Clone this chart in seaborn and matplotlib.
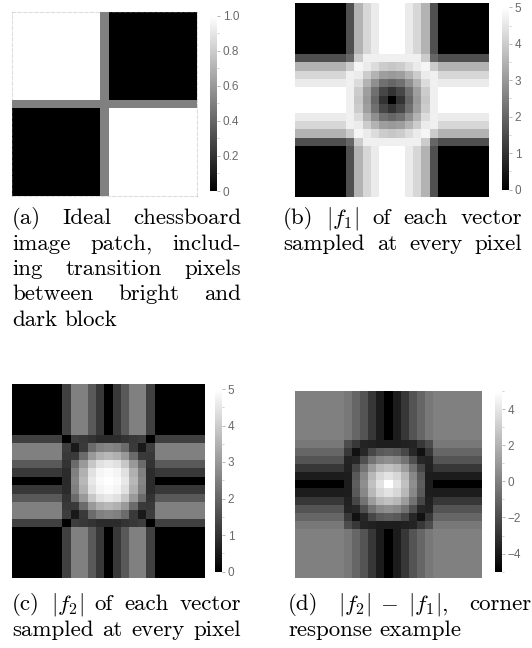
import numpy as np
import matplotlib
matplotlib.use("Agg")
import matplotlib.pyplot as plt
from matplotlib.ticker import MultipleLocator, FuncFormatter
import seaborn as sns

# ---- values: 23 x 23 pixel patch, centre pixel at index 11 ----

# (a) ideal chessboard: four blocks plus one row/column of transition pixels
board_blocks = [[1.0, 0.0],
                [0.0, 1.0]]
block_size = 11
transition_value = 0.5

# (b) |f1|: value across the bands (same profile along rows and columns) and the centre 11x11
f1_band = [0, 0, 0, 0, 0, 0, 1.55, 3.5, 4.2, 4.6, 5.0, 5.0, 5.0, 4.6, 4.2, 3.5, 1.55, 0, 0, 0, 0, 0, 0]
f1_centre = [
    [2.0, 4.0, 4.7, 4.7, 4.7, 4.7, 4.7, 4.7, 4.7, 4.0, 2.0],
    [4.0, 4.8, 4.6, 4.3, 4.0, 3.9, 4.0, 4.3, 4.6, 4.8, 4.0],
    [4.7, 4.6, 4.0, 3.5, 3.1, 3.0, 3.1, 3.5, 4.0, 4.6, 4.7],
    [4.7, 4.3, 3.5, 2.8, 2.2, 2.0, 2.2, 2.8, 3.5, 4.3, 4.7],
    [4.7, 4.0, 3.1, 2.2, 1.4, 1.0, 1.4, 2.2, 3.1, 4.0, 4.7],
    [4.7, 3.9, 3.0, 2.0, 1.0, 0.0, 1.0, 2.0, 3.0, 3.9, 4.7],
    [4.7, 4.0, 3.1, 2.2, 1.4, 1.0, 1.4, 2.2, 3.1, 4.0, 4.7],
    [4.7, 4.3, 3.5, 2.8, 2.2, 2.0, 2.2, 2.8, 3.5, 4.3, 4.7],
    [4.7, 4.6, 4.0, 3.5, 3.1, 3.0, 3.1, 3.5, 4.0, 4.6, 4.7],
    [4.0, 4.8, 4.6, 4.3, 4.0, 3.9, 4.0, 4.3, 4.6, 4.8, 4.0],
    [2.0, 4.0, 4.7, 4.7, 4.7, 4.7, 4.7, 4.7, 4.7, 4.0, 2.0],
]

# (c) |f2|
f2_band = [0, 0, 0, 0, 0, 0, 1.25, 2.5, 2.5, 1.75, 1.1, 0.0, 1.1, 1.75, 2.5, 2.5, 1.25, 0, 0, 0, 0, 0, 0]
f2_centre = [
    [0.0, 1.2, 1.1, 1.0, 0.85, 0.85, 0.85, 1.0, 1.1, 1.2, 0.0],
    [1.2, 0.5, 1.15, 2.1, 2.5, 2.6, 2.5, 2.1, 1.15, 0.5, 1.2],
    [1.1, 1.15, 2.1, 3.0, 3.45, 3.6, 3.45, 3.0, 2.1, 1.15, 1.1],
    [1.0, 2.1, 3.0, 3.9, 4.4, 4.55, 4.4, 3.9, 3.0, 2.1, 1.0],
    [0.85, 2.5, 3.45, 4.4, 4.8, 4.9, 4.8, 4.4, 3.45, 2.5, 0.85],
    [0.85, 2.6, 3.6, 4.55, 4.9, 5.0, 4.9, 4.55, 3.6, 2.6, 0.85],
    [0.85, 2.5, 3.45, 4.4, 4.8, 4.9, 4.8, 4.4, 3.45, 2.5, 0.85],
    [1.0, 2.1, 3.0, 3.9, 4.4, 4.55, 4.4, 3.9, 3.0, 2.1, 1.0],
    [1.1, 1.15, 2.1, 3.0, 3.45, 3.6, 3.45, 3.0, 2.1, 1.15, 1.1],
    [1.2, 0.5, 1.15, 2.1, 2.5, 2.6, 2.5, 2.1, 1.15, 0.5, 1.2],
    [0.0, 1.2, 1.1, 1.0, 0.85, 0.85, 0.85, 1.0, 1.1, 1.2, 0.0],
]

# (d) |f2| - |f1|, corner response
diff_band = [0, 0, 0, 0, 0, 0, -0.3, -1.0, -1.7, -2.85, -3.9, -5.0, -3.9, -2.85, -1.7, -1.0, -0.3, 0, 0, 0, 0, 0, 0]
diff_centre = [
    [-2.0, -2.8, -3.6, -3.7, -3.85, -3.85, -3.85, -3.7, -3.6, -2.8, -2.0],
    [-2.8, -4.3, -3.45, -2.2, -1.5, -1.3, -1.5, -2.2, -3.45, -4.3, -2.8],
    [-3.6, -3.45, -1.9, -0.5, 0.35, 0.6, 0.35, -0.5, -1.9, -3.45, -3.6],
    [-3.7, -2.2, -0.5, 1.1, 2.2, 2.55, 2.2, 1.1, -0.5, -2.2, -3.7],
    [-3.85, -1.5, 0.35, 2.2, 3.4, 3.9, 3.4, 2.2, 0.35, -1.5, -3.85],
    [-3.85, -1.3, 0.6, 2.55, 3.9, 5.0, 3.9, 2.55, 0.6, -1.3, -3.85],
    [-3.85, -1.5, 0.35, 2.2, 3.4, 3.9, 3.4, 2.2, 0.35, -1.5, -3.85],
    [-3.7, -2.2, -0.5, 1.1, 2.2, 2.55, 2.2, 1.1, -0.5, -2.2, -3.7],
    [-3.6, -3.45, -1.9, -0.5, 0.35, 0.6, 0.35, -0.5, -1.9, -3.45, -3.6],
    [-2.8, -4.3, -3.45, -2.2, -1.5, -1.3, -1.5, -2.2, -3.45, -4.3, -2.8],
    [-2.0, -2.8, -3.6, -3.7, -3.85, -3.85, -3.85, -3.7, -3.6, -2.8, -2.0],
]

cbar_ticks_a = [0, 0.2, 0.4, 0.6, 0.8, 1.0]
cbar_ticks_f = [0, 1, 2, 3, 4, 5]
cbar_ticks_d = [-4, -2, 0, 2, 4]

captions = {
    "a": ["(a) Ideal chessboard", "image patch, includ-", "ing transition pixels",
          "between bright and", "dark block"],
    "b": ["(b) $|f_1|$ of each vector", "sampled at every pixel"],
    "c": ["(c) $|f_2|$ of each vector", "sampled at every pixel"],
    "d": [r"(d) $|f_2|\;-\;|f_1|$, corner", "response example"],
}


def chessboard(blocks, size, mid):
    patch = np.kron(np.asarray(blocks, float), np.ones((size, size)))
    patch = np.insert(patch, size, mid, axis=0)
    return np.insert(patch, size, mid, axis=1)


def banded(band, centre):
    band = np.asarray(band, float)
    centre = np.asarray(centre, float)
    n, m = len(band), len(centre)
    lo, hi = (n - m) // 2, (n - m) // 2 + m
    patch = np.tile(band, (n, 1))
    patch[lo:hi, :] = band[lo:hi, None]
    patch[lo:hi, lo:hi] = centre
    return patch


# ---- figure ----
W, H, DPI = 532, 648, 100
plt.rcParams["mathtext.fontset"] = "cm"
fig = plt.figure(figsize=(W / DPI, H / DPI), dpi=DPI)


def px_axes(x0, y0, x1, y1):
    return fig.add_axes([x0 / W, 1 - y1 / H, (x1 - x0) / W, (y1 - y0) / H])


def fmt_a(v, _):
    return "0" if abs(v) < 1e-9 else f"{v:.1f}"


def fmt_int(v, _):
    return f"{v:g}".replace("-", "\u2212")


panels = [
    (chessboard(board_blocks, block_size, transition_value), 0, 1,
     (12, 12, 197, 196), (210, 15.7, 217, 191), cbar_ticks_a, fmt_a, 0.1),
    (banded(f1_band, f1_centre), 0, 5,
     (295.3, 3.3, 488.7, 196.7), (502, 7.3, 509, 189.5), cbar_ticks_f, fmt_int, 0.5),
    (banded(f2_band, f2_centre), 0, 5,
     (12, 384.3, 205, 577.7), (215, 389, 222, 571.5), cbar_ticks_f, fmt_int, 0.5),
    (banded(diff_band, diff_centre), -5, 5,
     (295.3, 391, 481.7, 577.7), (495, 391, 502, 571.7), cbar_ticks_d, fmt_int, 1),
]

for k, (data, vmin, vmax, box, cbox, ticks, fmt, minor) in enumerate(panels):
    ax = px_axes(*box)
    cax = px_axes(*cbox)
    sns.heatmap(data, ax=ax, cbar_ax=cax, cmap="gray", vmin=vmin, vmax=vmax,
                xticklabels=False, yticklabels=False)
    ax.tick_params(length=0)
    if k == 0:
        for sp in ax.spines.values():
            sp.set_visible(True)
            sp.set_linestyle((0, (3, 2)))
            sp.set_color("#909090")
            sp.set_alpha(0.3)
            sp.set_linewidth(0.8)
    cb = ax.collections[0].colorbar
    cb.outline.set_visible(False)
    cb.set_ticks(ticks)
    cb.ax.yaxis.set_major_formatter(FuncFormatter(fmt))
    cb.ax.yaxis.set_minor_locator(MultipleLocator(minor))
    cb.ax.tick_params(which="major", length=2.5, width=0.5, color="#999999",
                      labelsize=8.5, labelcolor="#6a6a6a", pad=1.5)
    cb.ax.tick_params(which="minor", length=1.3, width=0.4, color="#aaaaaa")
    for lab in cb.ax.get_yticklabels():
        lab.set_family("Liberation Sans")

# ---- justified captions ----
CAP_FS = 16.5
renderer = fig.canvas.get_renderer()
space = CAP_FS * DPI / 72 * 0.333


def caption(lines, x0, x1, y0, step, last_free):
    for i, line in enumerate(lines):
        words = line.split(" ")
        texts = [fig.text(0, 0, w, fontsize=CAP_FS, family="cmr10", va="baseline", ha="left")
                 for w in words]
        widths = [t.get_window_extent(renderer).width for t in texts]
        free = last_free and i == len(lines) - 1
        gap = space if free or len(words) < 2 else (x1 - x0 - sum(widths)) / (len(words) - 1)
        x = x0
        y = y0 + i * step
        for t, w in zip(texts, widths):
            t.set_position((x / W, 1 - y / H))
            x += w + gap


STEP = 25.5
caption(captions["a"], 12, 241, 224, STEP, True)
caption(captions["b"], 283, 522, 224, STEP, False)
caption(captions["c"], 12, 241, 610, STEP, False)
caption(captions["d"], 288, 531, 610, STEP, True)

fig.savefig("out.png", dpi=DPI)
